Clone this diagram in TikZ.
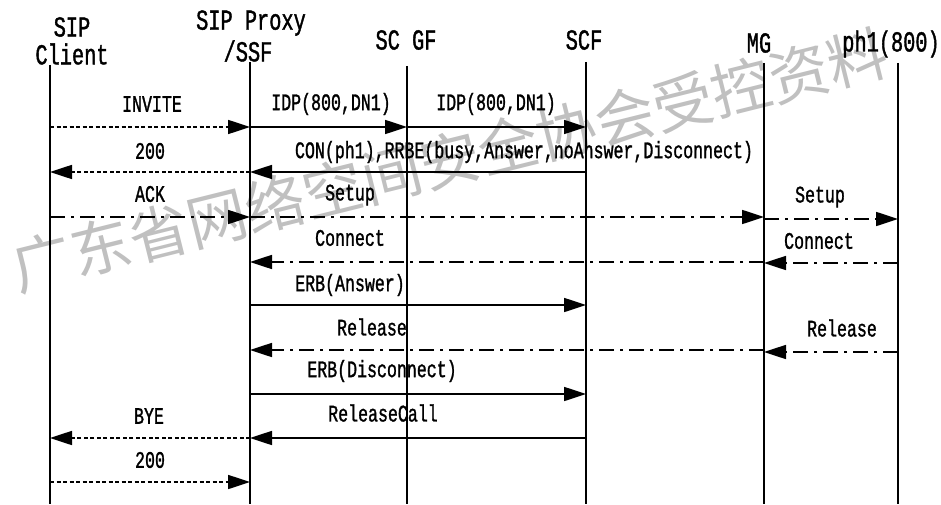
\documentclass[tikz,border=0pt]{standalone}
\usepackage{fontspec}
\setmainfont{Liberation Serif}
\newfontfamily\labfont[FakeStretch=0.7,FakeBold=1.2]{Liberation Mono}
\newfontfamily\wmfont{Noto Sans CJK SC}
\usetikzlibrary{arrows.meta}
\definecolor{wmgrey}{RGB}{192,192,192}
\begin{document}
\begin{tikzpicture}[x=1pt,y=-1pt,
  life/.style={line width=1.7pt},
  msg/.style={line width=1.7pt,-{Triangle[length=22pt,width=14pt]}},
  sol/.style={msg},
  dsh/.style={msg,dash pattern=on 4pt off 2.5pt},
  dd/.style={msg,dash pattern=on 15pt off 6pt on 3pt off 6pt},
  lab/.style={font=\labfont\fontsize{23.7}{24}\selectfont,inner sep=0pt,anchor=center},
  head/.style={font=\labfont\fontsize{29}{29}\selectfont,inner sep=0pt,anchor=center}]
\useasboundingbox (0,0) rectangle (941,505);
% watermark
\node[font=\wmfont\fontsize{60}{60}\selectfont,text=wmgrey,rotate=14,inner sep=0pt] (wm) at (450,160) {广东省网络空间安全协会受控资料};
% headers
\node[head] (h1a) at (72,27) {SIP};
\node[head] (h1b) at (72,54) {Client};
\node[head] (h2a) at (251,23) {SIP Proxy};
\node[head] (h2b) at (248,51) {/SSF};
\node[head] (h3) at (406,40) {SC GF};
\node[head] (h4) at (584,40) {SCF};
\node[head] (h5) at (759,43) {MG};
\node[head] (h6) at (891,44) {ph1(800)};
% lifeline tops
\coordinate (cl) at (50,65);
\coordinate (px) at (250,62);
\coordinate (gf) at (407,66);
\coordinate (scf) at (586,62);
\coordinate (mg) at (764,63);
\coordinate (ph) at (898,63);
\coordinate (bot) at (0,504);
\foreach \l in {cl,px,gf,scf,mg,ph}{\draw[life] (\l) -- (\l|-bot);}
% rows
\coordinate (r1) at (0,127);
\coordinate (r2) at (0,172);
\coordinate (r3) at (0,217);
\coordinate (r3b) at (0,219);
\coordinate (r4) at (0,262);
\coordinate (r4b) at (0,263);
\coordinate (r5) at (0,305);
\coordinate (r6) at (0,350);
\coordinate (r6b) at (0,352);
\coordinate (r7) at (0,394);
\coordinate (r8) at (0,438);
\coordinate (r9) at (0,482);
% messages
\draw[dsh] (cl|-r1) -- (px|-r1);
\draw[sol] (px|-r1) -- (gf|-r1);
\draw[sol] (gf|-r1) -- (scf|-r1);
\draw[sol] (scf|-r2) -- (px|-r2);
\draw[dsh] (px|-r2) -- (cl|-r2);
\draw[dd] (cl|-r3) -- (px|-r3);
\draw[dd] (px|-r3) -- (mg|-r3);
\draw[dd] (mg|-r3b) -- (ph|-r3b);
\draw[dd] (ph|-r4b) -- (mg|-r4b);
\draw[dd] (mg|-r4) -- (px|-r4);
\draw[sol] (px|-r5) -- (scf|-r5);
\draw[dd] (ph|-r6b) -- (mg|-r6b);
\draw[dd] (mg|-r6) -- (px|-r6);
\draw[sol] (px|-r7) -- (scf|-r7);
\draw[sol] (scf|-r8) -- (px|-r8);
\draw[dsh] (px|-r8) -- (cl|-r8);
\draw[dsh] (cl|-r9) -- (px|-r9);
% labels
\node[lab] (l1) at (152,104) {INVITE};
\node[lab] (l2) at (331,104) {IDP(800,DN1)};
\node[lab] (l3) at (496,104) {IDP(800,DN1)};
\node[lab] (l4) at (150,151) {200};
\node[lab] (l5) at (524,152) {CON(ph1),RRBE(busy,Answer,noAnswer,Disconnect)};
\node[lab] (l6) at (150,194) {ACK};
\node[lab] (l7) at (350,195) {Setup};
\node[lab] (l8) at (820,197) {Setup};
\node[lab] (l9) at (350,238) {Connect};
\node[lab] (l10) at (819,241) {Connect};
\node[lab] (l11) at (350,285) {ERB(Answer)};
\node[lab] (l12) at (372,327) {Release};
\node[lab] (l13) at (842,328) {Release};
\node[lab] (l14) at (382,371) {ERB(Disconnect)};
\node[lab] (l15) at (149,416) {BYE};
\node[lab] (l16) at (383,413) {ReleaseCall};
\node[lab] (l17) at (150,460) {200};
\end{tikzpicture}
\end{document}
